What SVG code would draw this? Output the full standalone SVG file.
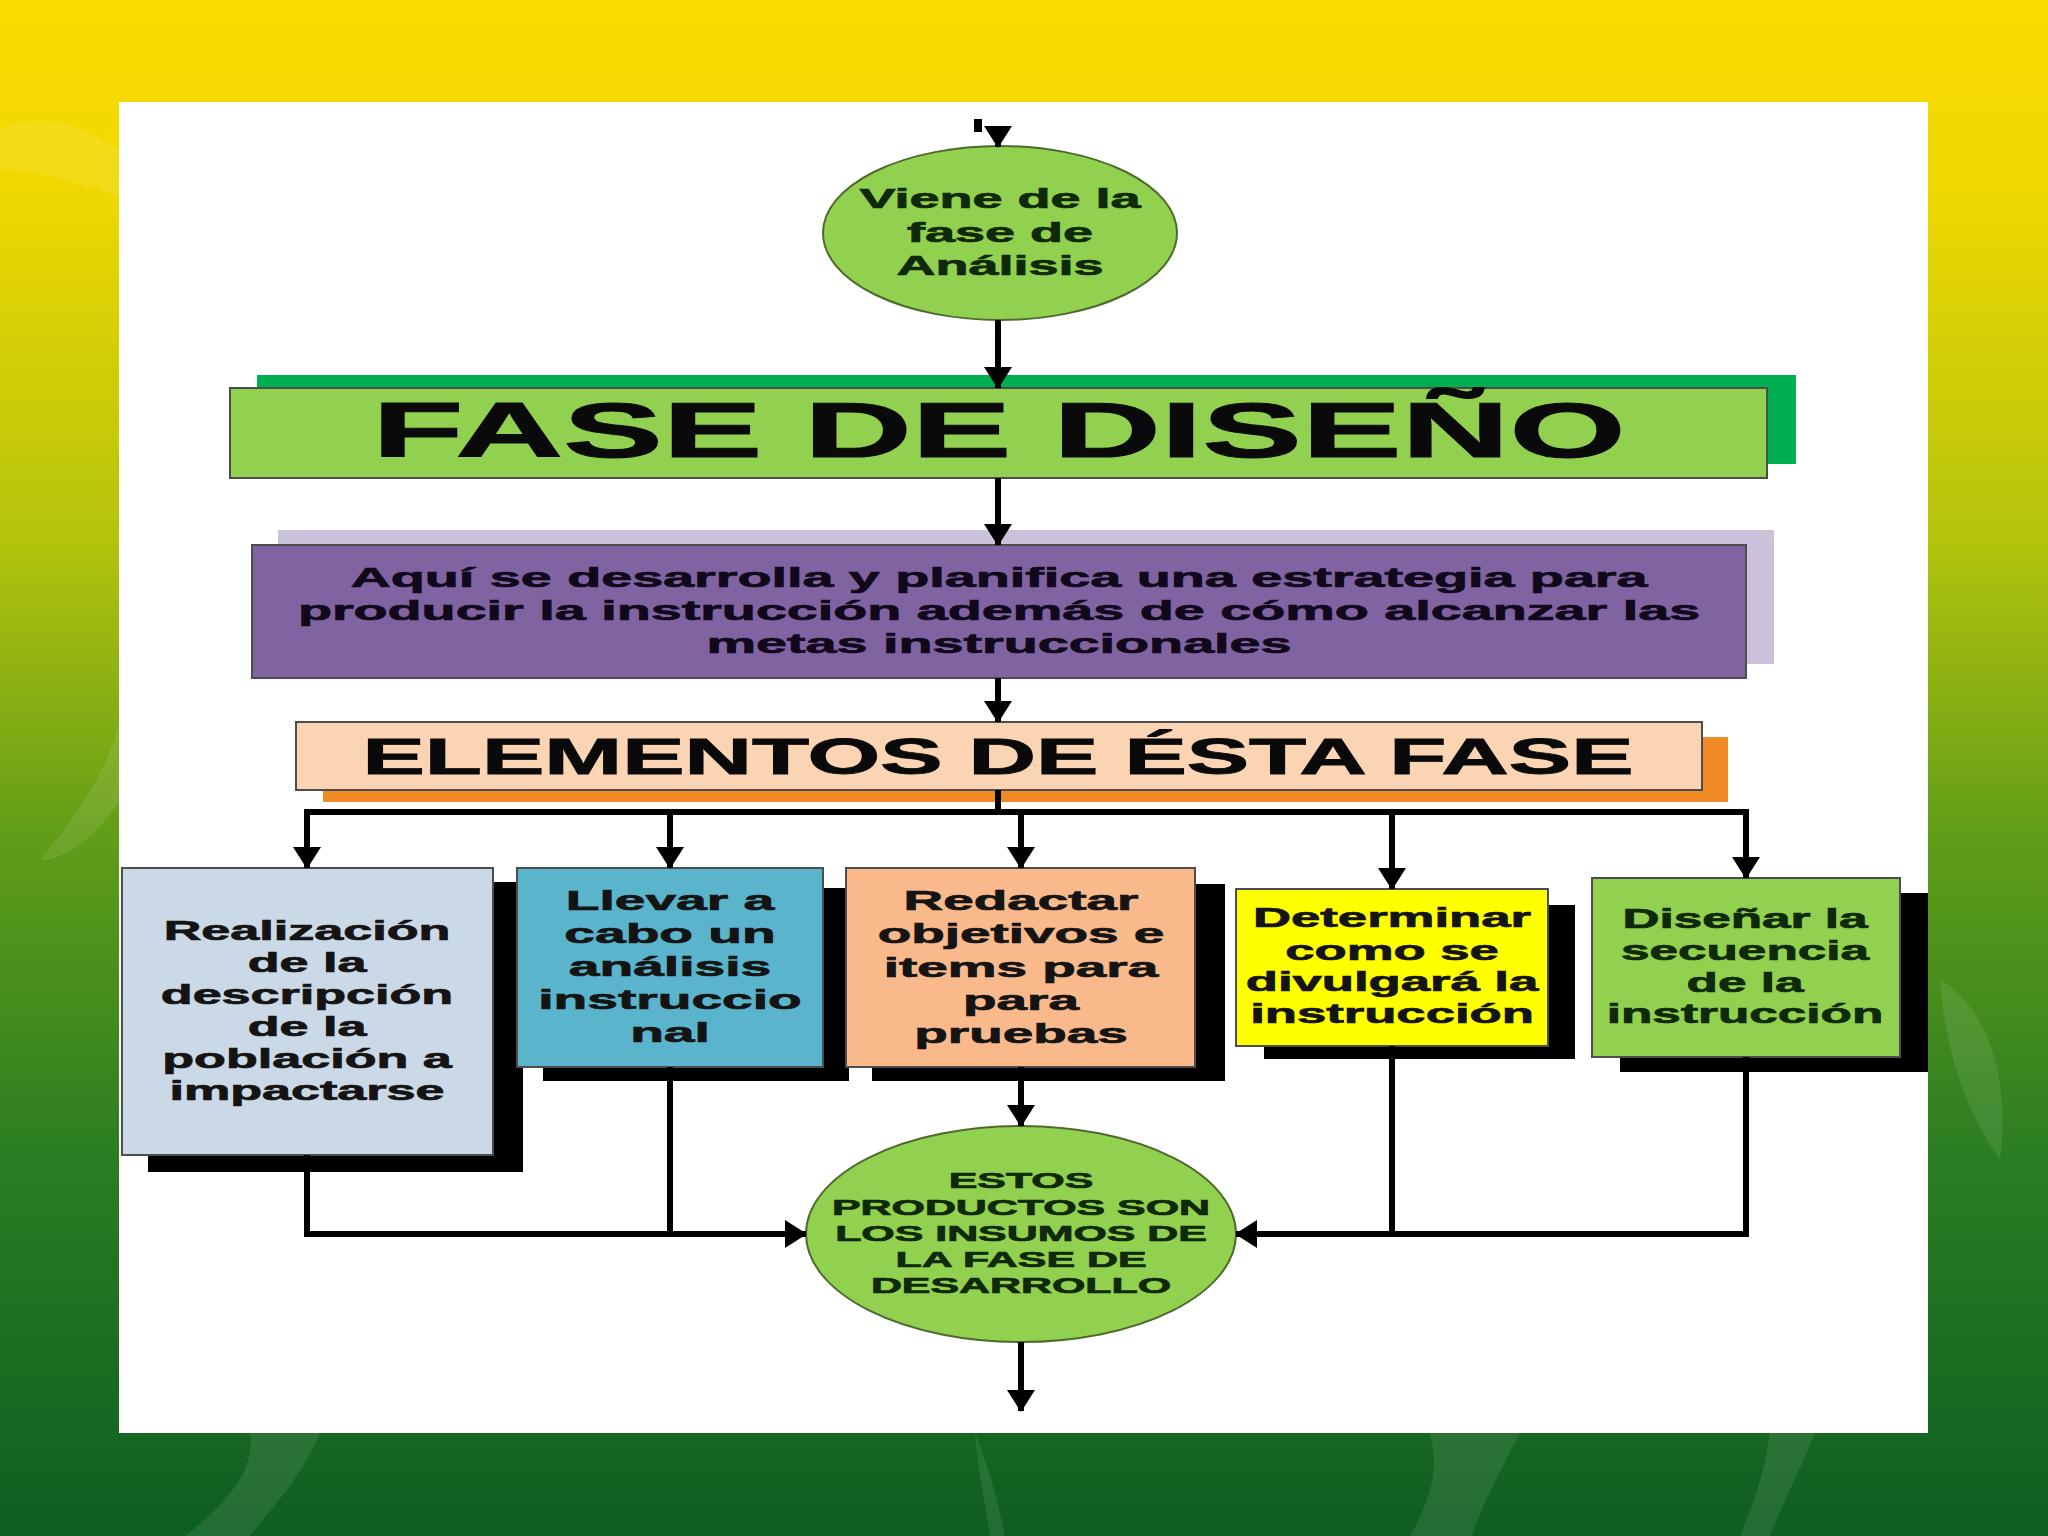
<svg xmlns="http://www.w3.org/2000/svg" width="2048" height="1536" viewBox="0 0 2048 1536">
<defs>
<linearGradient id="bg" x1="0" y1="0" x2="0" y2="1">
<stop offset="0" stop-color="#f8dc00"/>
<stop offset="0.12" stop-color="#f0d800"/>
<stop offset="0.35" stop-color="#b4c40c"/>
<stop offset="0.55" stop-color="#5f9c18"/>
<stop offset="0.75" stop-color="#2c7e22"/>
<stop offset="1" stop-color="#0d5e22"/>
</linearGradient>
<marker id="ah" viewBox="0 0 22 28" refX="21" refY="14" markerWidth="22" markerHeight="28" markerUnits="userSpaceOnUse" orient="auto">
<path d="M0,0 L22,14 L0,28 z" fill="#000"/>
</marker>
<style>
.t{font-family:"Liberation Sans",Arial,sans-serif;font-weight:bold;text-anchor:middle;fill:#141414;stroke:#141414;stroke-width:0.7}
.tg{fill:#0f2a0a;stroke:#0f2a0a}
.c{fill:none;stroke:#000;stroke-width:6}
.ca{fill:none;stroke:#000;stroke-width:6;marker-end:url(#ah)}
.sh{fill:#000}
.box{stroke:#4d4d4d;stroke-width:2}
.leaf{fill:#ffffff;opacity:0.09}
</style>
</defs>
<rect x="0" y="0" width="2048" height="1536" fill="url(#bg)"/>
<g id="decor">
<path class="leaf" d="M0,130 C60,100 140,150 190,220 C120,200 60,170 0,170 z"/>
<path class="leaf" d="M40,860 C90,800 110,760 120,720 L120,800 C100,830 70,860 40,860 z"/>
<path class="leaf" d="M320,1433 C300,1480 270,1510 250,1536 L185,1536 C230,1500 255,1470 250,1433 z"/>
<path class="leaf" d="M975,1433 C990,1470 1000,1510 1005,1536 L990,1536 C985,1500 978,1470 975,1433 z"/>
<path class="leaf" d="M1520,1433 C1500,1470 1480,1510 1472,1536 L1410,1536 C1430,1500 1440,1470 1430,1433 z"/>
<path class="leaf" d="M1815,1433 C1800,1470 1780,1510 1770,1536 L1740,1536 C1755,1500 1765,1470 1770,1433 z"/>
<path class="leaf" d="M1940,980 C1990,1010 2010,1080 2000,1160 C1965,1110 1945,1050 1940,980 z"/>
</g>
<rect id="panel" x="119" y="102" width="1809" height="1331" fill="#ffffff"/>

<g id="n-viene">
<ellipse cx="1000" cy="233" rx="177" ry="87" fill="#92d050" stroke="#4f6b2c" stroke-width="2"/>
<g transform="translate(1000,0) scale(2,1)">
<text class="t tg" font-size="27"><tspan x="0" y="208">Viene de la</tspan><tspan x="0" y="242">fase de</tspan><tspan x="0" y="275">Análisis</tspan></text>
</g>
</g>

<g id="n-fase">
<rect x="257" y="375" width="1539" height="89" fill="#00b050"/>
<rect class="box" x="230" y="388" width="1537" height="90" fill="#92d050"/>
<g transform="translate(999,0) scale(1.94,1)">
<text class="t" font-size="77" style="fill:#0a0a0a;stroke:#0a0a0a;stroke-width:1"><tspan x="0" y="457">FASE DE DISEÑO</tspan></text>
</g>
</g>

<g id="n-aqui">
<rect x="278" y="530" width="1496" height="134" fill="#ccc1da"/>
<rect class="box" x="252" y="545" width="1494" height="133" fill="#8064a2" stroke="#3f3151"/>
<g transform="translate(999,0) scale(1.99,1)">
<text class="t" font-size="28" style="fill:#12081c;stroke:#12081c"><tspan x="0" y="587">Aquí se desarrolla y planifica una estrategia para</tspan><tspan x="0" y="620">producir la instrucción además de cómo alcanzar las</tspan><tspan x="0" y="653">metas instruccionales</tspan></text>
</g>
</g>

<g id="n-elementos">
<rect x="323" y="737" width="1405" height="65" fill="#f08a24"/>
<rect class="box" x="296" y="722" width="1406" height="68" fill="#fbd4b4"/>
<g transform="translate(998,0) scale(1.87,1)">
<text class="t" font-size="50" style="fill:#0a0a0a;stroke:#0a0a0a;stroke-width:0.9"><tspan x="0" y="774">ELEMENTOS DE ÉSTA FASE</tspan></text>
</g>
</g>

<g id="n-realizacion">
<rect class="sh" x="148" y="882" width="375" height="290"/>
<rect class="box" x="122" y="868" width="371" height="287" fill="#cbd8e6"/>
<g transform="translate(307,0) scale(1.93,1)">
<text class="t" font-size="27"><tspan x="0" y="940">Realización</tspan><tspan x="0" y="972">de la</tspan><tspan x="0" y="1004">descripción</tspan><tspan x="0" y="1036">de la</tspan><tspan x="0" y="1068">población a</tspan><tspan x="0" y="1100">impactarse</tspan></text>
</g>
</g>

<g id="n-llevar">
<rect class="sh" x="543" y="888" width="306" height="193"/>
<rect class="box" x="517" y="868" width="306" height="199" fill="#5ab4cc"/>
<g transform="translate(670,0) scale(1.97,1)">
<text class="t" font-size="28"><tspan x="0" y="910">Llevar a</tspan><tspan x="0" y="943">cabo un</tspan><tspan x="0" y="976">análisis</tspan><tspan x="0" y="1009">instruccio</tspan><tspan x="0" y="1042">nal</tspan></text>
</g>
</g>

<g id="n-redactar">
<rect class="sh" x="872" y="884" width="353" height="197"/>
<rect class="box" x="846" y="868" width="349" height="199" fill="#f9b98a"/>
<g transform="translate(1021,0) scale(1.96,1)">
<text class="t" font-size="28"><tspan x="0" y="910">Redactar</tspan><tspan x="0" y="943">objetivos e</tspan><tspan x="0" y="977">items para</tspan><tspan x="0" y="1010">para</tspan><tspan x="0" y="1043">pruebas</tspan></text>
</g>
</g>

<g id="n-determinar">
<rect class="sh" x="1264" y="905" width="311" height="154"/>
<rect class="box" x="1236" y="889" width="312" height="157" fill="#ffff00"/>
<g transform="translate(1392,0) scale(1.95,1)">
<text class="t" font-size="27"><tspan x="0" y="927">Determinar</tspan><tspan x="0" y="960">como se</tspan><tspan x="0" y="991">divulgará la</tspan><tspan x="0" y="1023">instrucción</tspan></text>
</g>
</g>

<g id="n-disenar">
<rect class="sh" x="1620" y="893" width="308" height="179"/>
<rect class="box" x="1592" y="878" width="308" height="179" fill="#92d050"/>
<g transform="translate(1745,0) scale(1.9,1)">
<text class="t tg" font-size="27"><tspan x="0" y="928">Diseñar la</tspan><tspan x="0" y="960">secuencia</tspan><tspan x="0" y="992">de la</tspan><tspan x="0" y="1023">instrucción</tspan></text>
</g>
</g>

<g id="n-estos">
<ellipse cx="1021" cy="1234" rx="215" ry="108" fill="#92d050" stroke="#4f6b2c" stroke-width="2"/>
<g transform="translate(1021,0) scale(1.95,1)">
<text class="t tg" font-size="22"><tspan x="0" y="1188">ESTOS</tspan><tspan x="0" y="1215">PRODUCTOS SON</tspan><tspan x="0" y="1241">LOS INSUMOS DE</tspan><tspan x="0" y="1267">LA FASE DE</tspan><tspan x="0" y="1293">DESARROLLO</tspan></text>
</g>
</g>

<g id="connectors">
<rect x="974" y="119" width="8" height="13" fill="#000"/>
<line class="ca" x1="998" y1="126" x2="998" y2="147"/>
<line class="ca" x1="998" y1="320" x2="998" y2="388"/>
<line class="ca" x1="998" y1="478" x2="998" y2="545"/>
<line class="ca" x1="998" y1="678" x2="998" y2="722"/>
<line class="c" x1="998" y1="790" x2="998" y2="812"/>
<line class="c" x1="304" y1="812" x2="1749" y2="812"/>
<line class="ca" x1="307" y1="812" x2="307" y2="868"/>
<line class="ca" x1="670" y1="812" x2="670" y2="868"/>
<line class="ca" x1="1021" y1="812" x2="1021" y2="868"/>
<line class="ca" x1="1392" y1="812" x2="1392" y2="889"/>
<line class="ca" x1="1746" y1="812" x2="1746" y2="878"/>
<line class="ca" x1="1021" y1="1067" x2="1021" y2="1126"/>
<polyline class="ca" points="307,1155 307,1234 806,1234"/>
<line class="c" x1="670" y1="1067" x2="670" y2="1234"/>
<polyline class="ca" points="1746,1057 1746,1234 1236,1234"/>
<line class="c" x1="1392" y1="1046" x2="1392" y2="1234"/>
<line class="ca" x1="1021" y1="1342" x2="1021" y2="1411"/>
</g>
</svg>
